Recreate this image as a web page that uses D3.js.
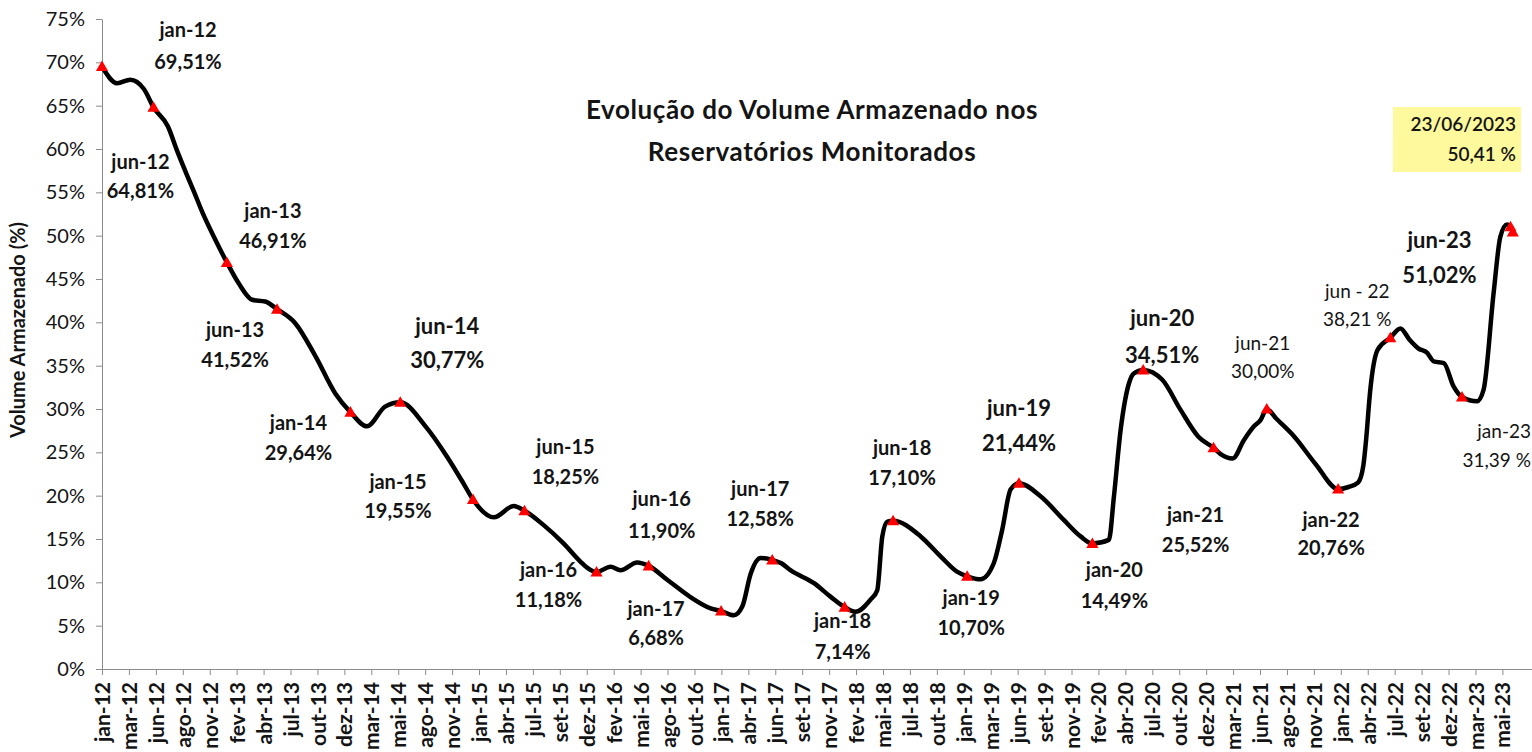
<!DOCTYPE html>
<html>
<head>
<meta charset="utf-8">
<script src="https://cdn.jsdelivr.net/npm/d3@7"></script>
<style>
  body { margin: 0; background: #fff; }
  text { font-family: Lato, "Open Sans", sans-serif; fill: #141414; }
</style>
</head>
<body>
<svg id="chart" width="1532" height="752"></svg>
<script>
// ---- data ----
var tickLabels = ["jan-12","mar-12","jun-12","ago-12","nov-12","fev-13","abr-13","jul-13","out-13","dez-13",
  "mar-14","mai-14","ago-14","nov-14","jan-15","abr-15","jul-15","set-15","dez-15","fev-16",
  "mai-16","ago-16","out-16","jan-17","abr-17","jun-17","set-17","nov-17","fev-18","mai-18",
  "jul-18","out-18","jan-19","mar-19","jun-19","set-19","nov-19","fev-20","abr-20","jul-20",
  "out-20","dez-20","mar-21","jun-21","ago-21","nov-21","jan-22","abr-22","jul-22","set-22",
  "dez-22","mar-23","mai-23"];
var yTicks = [0,5,10,15,20,25,30,35,40,45,50,55,60,65,70,75];

// volume armazenado (%) - curva
var seriesDates = ["2012-02-15","2012-03-25","2012-05-05","2012-07-15","2012-08-10","2012-09-05","2012-10-01","2012-10-24","2012-12-03",
  "2013-02-10","2013-03-22","2013-04-30","2013-07-28","2013-09-26","2013-11-24",
  "2014-02-26","2014-04-22","2014-08-19","2014-10-22","2014-12-10",
  "2015-03-10","2015-05-08","2015-08-05","2015-10-03","2015-11-22","2015-12-15",
  "2016-02-20","2016-03-20","2016-05-09","2016-08-06","2016-10-14","2016-12-13",
  "2017-02-20","2017-03-17","2017-04-11","2017-05-10","2017-07-11","2017-08-07","2017-10-16","2017-12-04",
  "2018-02-16","2018-04-02","2018-04-22","2018-05-07","2018-05-22","2018-08-29","2018-10-27","2018-12-16",
  "2019-02-23","2019-04-03","2019-04-28","2019-05-23","2019-08-21","2019-10-28","2019-12-17",
  "2020-03-10","2020-03-25","2020-04-14","2020-05-09","2020-05-23","2020-08-15","2020-10-09","2020-12-01",
  "2021-02-05","2021-03-13","2021-04-15","2021-05-15","2021-06-04","2021-07-20","2021-09-12","2021-11-15",
  "2022-02-20","2022-03-20","2022-04-05","2022-04-13","2022-04-25","2022-05-17","2022-07-24","2022-08-20",
  "2022-09-15","2022-10-11","2022-10-31","2022-11-30","2022-12-29",
  "2023-03-09","2023-03-28","2023-04-27","2023-05-17","2023-06-06"];
var seriesValues = [67.6,68.0,66.9,62.6,59.9,57.4,55.0,52.8,49.5,
  44.5,42.6,42.4,39.9,36.1,31.8,
  28.0,30.3,28.0,24.5,21.4,
  17.5,18.8,16.6,14.5,12.4,11.6,
  11.8,11.4,12.3,10.3,8.3,7.0,
  6.2,7.2,11.0,12.8,12.2,11.4,9.9,8.35,
  6.6,8.0,9.1,15.3,17.0,15.3,13.0,11.2,
  10.35,12.2,16.05,20.7,19.9,17.2,15.3,
  14.9,19.9,27.6,33.0,34.1,33.4,29.9,26.8,
  24.8,24.3,26.4,28.0,28.75,28.9,26.8,23.6,
  21.0,21.5,23.5,26.4,32.0,36.8,39.3,38.0,
  37.0,36.5,35.5,35.3,32.6,
  30.9,32.2,43.4,49.9,51.3];

// pontos destacados (triangulos vermelhos)
var markerNames = ["jan-12","jun-12","jan-13","jun-13","jan-14","jun-14","jan-15","jun-15","jan-16","jun-16",
  "jan-17","jun-17","jan-18","jun-18","jan-19","jun-19","jan-20","jun-20","jan-21","jun-21",
  "jan-22","jun - 22","jan-23","jun-23"];
var markerDates = ["2012-01-01","2012-06-02","2013-01-06","2013-06-04","2014-01-08","2014-06-05","2015-01-07","2015-06-09",
  "2016-01-09","2016-06-12","2017-01-13","2017-06-14","2018-01-15","2018-06-08","2019-01-14","2019-06-17",
  "2020-01-21","2020-06-20","2021-01-15","2021-06-22","2022-01-20","2022-06-24","2023-01-23","2023-06-16"];
var markerValues = [69.51,64.81,46.91,41.52,29.64,30.77,19.55,18.25,11.18,11.90,
  6.68,12.58,7.14,17.10,10.70,21.44,14.49,34.51,25.52,30.00,
  20.76,38.21,31.39,51.02];

var lastDate = "2023-06-23";
var lastLabel = "23/06/2023";
var lastValue = 50.41;

// ---- layout of the annotations: [dx, dy line1, dy line2, style, anchor] ----
var labelLayout = [[86,-37,-5,"n"],[-13,55,84,"n"],[46,-51,-21,"n"],[-42,21,51,"n"],[-52,11,41,"n"],
  [47,-76,-42,"b"],[-75,-18,11,"n"],[41,-64,-34,"n"],[-48,-2,28,"n"],[13,-67,-35,"n"],
  [-65,-2,27,"n"],[-12,-71,-41,"n"],[-2,14,45,"n"],[9,-73,-43,"n"],[4,22,52,"n"],
  [0,-75,-40,"b"],[22,27,58,"n"],[19,-52,-15,"b"],[-18,67,97,"n"],[-4,-66,-38,"s"],
  [-7,31,59,"n"],[-33,-47,-19,"s"],[69,34,63,"s","end"],[-71,13,48,"b"]];

var width = 1532, height = 752;
var parse = d3.timeParse("%Y-%m-%d");
var svg = d3.select("#chart");

var x = d3.scaleTime()
  .domain([parse("2012-01-01"), parse("2023-08-13")])
  .range([102, 1530]);
var y = d3.scaleLinear().domain([0, 75]).range([669, 19]);

// eixo x: marcas a cada 80 dias (como no grafico original)
var tickDates = tickLabels.map(function(d, i) { return d3.timeDay.offset(parse("2012-01-01"), i * 80); });

var xAxis = svg.append("g")
  .attr("transform", "translate(0," + y(0) + ")")
  .call(d3.axisBottom(x).tickValues(tickDates).tickSize(6).tickSizeOuter(0)
    .tickFormat(function(d, i) { return tickLabels[i]; }));
xAxis.select(".domain").attr("stroke", "#8c8c8c").attr("d", "M102,0.5H1532");
xAxis.selectAll(".tick line").attr("stroke", "#8c8c8c");
xAxis.selectAll(".tick text")
  .attr("transform", "rotate(-90)")
  .attr("text-anchor", "end")
  .attr("x", -13)
  .attr("y", 0)
  .attr("dy", "0.36em")
  .style("font-size", "21px")
  .style("font-weight", "700")
  .style("font-family", "Lato, sans-serif")
  .attr("fill", "#141414");

var yAxis = svg.append("g")
  .attr("transform", "translate(102,0)")
  .call(d3.axisLeft(y).tickValues(yTicks).tickSize(6).tickSizeOuter(0)
    .tickFormat(function(d) { return d + "%"; }));
yAxis.select(".domain").attr("stroke", "#8c8c8c");
yAxis.selectAll(".tick text")
  .attr("x", -17)
  .style("font-size", "20px")
  .style("font-family", "Lato, sans-serif")
  .attr("fill", "#262626");
yAxis.selectAll(".tick line").attr("stroke", "#8c8c8c");

svg.append("text")
  .attr("transform", "translate(25,330) rotate(-90)")
  .attr("text-anchor", "middle")
  .style("font-size", "20px")
  .style("font-weight", "700")
  .text("Volume Armazenado (%)");

// titulo
var title = svg.append("text")
  .attr("text-anchor", "middle")
  .style("font-size", "26px")
  .style("font-weight", "700")
  .style("letter-spacing", "0.6px");
title.append("tspan").attr("x", 812).attr("y", 119).text("Evolução do Volume Armazenado nos");
title.append("tspan").attr("x", 812).attr("y", 161).text("Reservatórios Monitorados");

// linha: curva + pontos destacados, ordenados por data
var points = seriesDates.map(function(d, i) { return { date: parse(d), value: seriesValues[i] }; });
markerDates.forEach(function(d, i) { points.push({ date: parse(d), value: markerValues[i] }); });
points.push({ date: parse(lastDate), value: lastValue });
points.sort(function(a, b) { return a.date - b.date; });

var line = d3.line()
  .x(function(d) { return x(d.date); })
  .y(function(d) { return y(d.value); })
  .curve(d3.curveMonotoneX);

svg.append("path")
  .datum(points)
  .attr("fill", "none")
  .attr("stroke", "#000")
  .attr("stroke-width", 4.5)
  .attr("stroke-linejoin", "round")
  .attr("stroke-linecap", "round")
  .attr("d", line);

// triangulos
var tri = d3.symbol().type(d3.symbolTriangle).size(64);
var markers = markerDates.map(function(d, i) { return { date: parse(d), value: markerValues[i], name: markerNames[i], lay: labelLayout[i] }; });
markers.push({ date: parse(lastDate), value: lastValue, name: null });

svg.selectAll(".mk")
  .data(markers)
  .enter().append("path")
  .attr("class", "mk")
  .attr("d", tri)
  .attr("fill", "#ff0000")
  .attr("transform", function(d) { return "translate(" + x(d.date) + "," + (y(d.value) + 1) + ")"; });

// rotulos
var fmt = d3.format(".2f");
var sizes = { n: ["20px", "700"], b: ["22px", "700"], s: ["19px", "400"] };
var lab = svg.selectAll(".lab")
  .data(markers.filter(function(d) { return d.name; }))
  .enter().append("g")
  .attr("class", "lab")
  .attr("transform", function(d) { return "translate(" + (x(d.date) + d.lay[0]) + "," + y(d.value) + ")"; });
lab.append("text")
  .attr("text-anchor", function(d) { return d.lay[4] || "middle"; })
  .attr("y", function(d) { return d.lay[1]; })
  .attr("dy", "0.35em")
  .style("font-size", function(d) { return sizes[d.lay[3]][0]; })
  .style("font-weight", function(d) { return sizes[d.lay[3]][1]; })
  .text(function(d) { return d.name; });
lab.append("text")
  .attr("text-anchor", function(d) { return d.lay[4] || "middle"; })
  .attr("y", function(d) { return d.lay[2]; })
  .attr("dy", "0.35em")
  .style("font-size", function(d) { return sizes[d.lay[3]][0]; })
  .style("font-weight", function(d) { return sizes[d.lay[3]][1]; })
  .text(function(d) { return fmt(d.value).replace(".", ",") + (d.lay[3] === "s" && d.name !== "jun-21" ? " %" : "%"); });

// caixa amarela com o ultimo valor
svg.append("rect")
  .attr("x", 1393).attr("y", 107).attr("width", 128).attr("height", 65)
  .attr("fill", "#fdf99c");
svg.append("text")
  .attr("x", 1516).attr("y", 131)
  .attr("text-anchor", "end")
  .style("font-size", "19px")
  .style("font-weight", "600")
  .text(lastLabel);
svg.append("text")
  .attr("x", 1516).attr("y", 161)
  .attr("text-anchor", "end")
  .style("font-size", "19px")
  .style("font-weight", "600")
  .text(fmt(lastValue).replace(".", ",") + " %");
</script>
</body>
</html>
